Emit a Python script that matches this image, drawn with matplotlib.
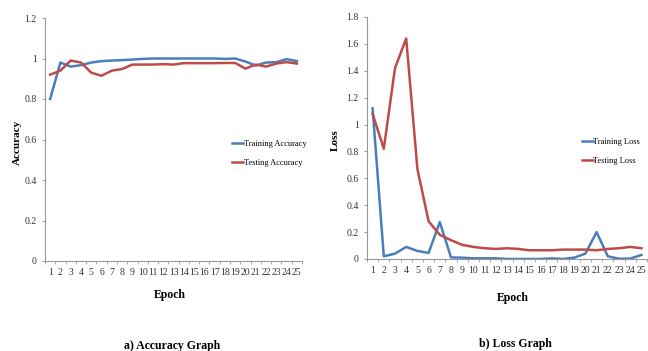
import numpy as np
import matplotlib.pyplot as plt

plt.rcParams['font.family'] = ['Liberation Serif', 'DejaVu Serif']

epochs = list(range(1, 26))

train_acc = [0.80, 0.98, 0.96, 0.967, 0.98, 0.987, 0.99, 0.992, 0.995, 0.998,
             1.0, 1.0, 1.0, 1.0, 1.0, 1.0, 1.0, 0.998, 1.0, 0.985,
             0.965, 0.98, 0.982, 0.997, 0.987]
test_acc = [0.92, 0.94, 0.99, 0.98, 0.93, 0.915, 0.94, 0.948, 0.97, 0.97,
            0.97, 0.972, 0.97, 0.977, 0.977, 0.977, 0.977, 0.978, 0.978, 0.95,
            0.97, 0.96, 0.975, 0.982, 0.975]

train_loss = [1.12, 0.02, 0.04, 0.09, 0.06, 0.045, 0.275, 0.012, 0.01, 0.005,
              0.005, 0.005, 0.0, 0.0, 0.0, 0.0, 0.005, 0.0, 0.01, 0.04,
              0.2, 0.02, 0.002, 0.003, 0.03]
test_loss = [1.08, 0.82, 1.42, 1.64, 0.67, 0.28, 0.18, 0.14, 0.105, 0.09,
             0.08, 0.075, 0.08, 0.075, 0.065, 0.065, 0.065, 0.07, 0.07, 0.07,
             0.065, 0.075, 0.08, 0.09, 0.08]

blue = '#4a7ebb'
red = '#be4b48'
W, H = 648, 351

fig = plt.figure(figsize=(6.48, 3.51), dpi=100)


def style(ax, yticks, yfmt):
    ax.set_xlim(0.5, 25.5)
    ax.set_xticks(epochs)
    ax.set_xticklabels([str(e) for e in epochs], fontsize=7, color='#333333')
    ax.set_xticks(np.arange(0.5, 26, 1), minor=True)
    ax.tick_params(axis='x', which='major', length=0, pad=5)
    ax.tick_params(axis='x', which='minor', length=2.5, color='#999999')
    ax.set_yticks(yticks)
    ax.set_yticklabels([yfmt(v) for v in yticks], fontsize=7, color='#333333')
    ax.tick_params(axis='y', length=2.5, color='#999999')
    for s in ['top', 'right']:
        ax.spines[s].set_visible(False)
    for s in ['left', 'bottom']:
        ax.spines[s].set_color('#999999')
        ax.spines[s].set_linewidth(0.8)


def fmt(v):
    s = ('%.1f' % v).rstrip('0').rstrip('.')
    return s


# a) Accuracy
ax1 = fig.add_axes([45 / W, 1 - 261 / H, 257 / W, 243 / H])
ax1.plot(epochs, train_acc, color=blue, lw=1.8, label='Training Accuracy')
ax1.plot(epochs, test_acc, color=red, lw=1.8, label='Testing Accuracy')
ax1.set_ylim(0, 1.2)
style(ax1, [0, 0.2, 0.4, 0.6, 0.8, 1.0, 1.2], fmt)
ax1.legend(loc='upper left', bbox_to_anchor=(0.7, 0.53), frameon=False,
           fontsize=6, handlelength=1.3, handletextpad=0.1, labelspacing=1.3)
fig.text(17 / W, 1 - 142 / H, 'Accuracy', rotation=90, ha='center', va='center',
         fontsize=8, fontweight='bold')
fig.text(170 / W, 1 - 295 / H, 'Epoch', ha='center', va='center',
         fontsize=8.5, fontweight='bold')
fig.text(172 / W, 1 - 346 / H, 'a) Accuracy Graph', ha='center', va='center',
         fontsize=8.5, fontweight='bold')

# b) Loss
ax2 = fig.add_axes([367 / W, 1 - 259 / H, 280 / W, 242 / H])
ax2.plot(epochs, train_loss, color=blue, lw=1.8, label='Training Loss')
ax2.plot(epochs, test_loss, color=red, lw=1.8, label='Testing Loss')
ax2.set_ylim(0, 1.8)
style(ax2, [0, 0.2, 0.4, 0.6, 0.8, 1.0, 1.2, 1.4, 1.6, 1.8], fmt)
ax2.legend(loc='upper left', bbox_to_anchor=(0.74, 0.53), frameon=False,
           fontsize=6, handlelength=1.3, handletextpad=0.1, labelspacing=1.3)
fig.text(335 / W, 1 - 140 / H, 'Loss', rotation=90, ha='center', va='center',
         fontsize=8, fontweight='bold')
fig.text(513 / W, 1 - 298 / H, 'Epoch', ha='center', va='center',
         fontsize=8.5, fontweight='bold')
fig.text(515 / W, 1 - 344 / H, 'b) Loss Graph', ha='center', va='center',
         fontsize=8.5, fontweight='bold')

fig.savefig('out.png', dpi=100)
